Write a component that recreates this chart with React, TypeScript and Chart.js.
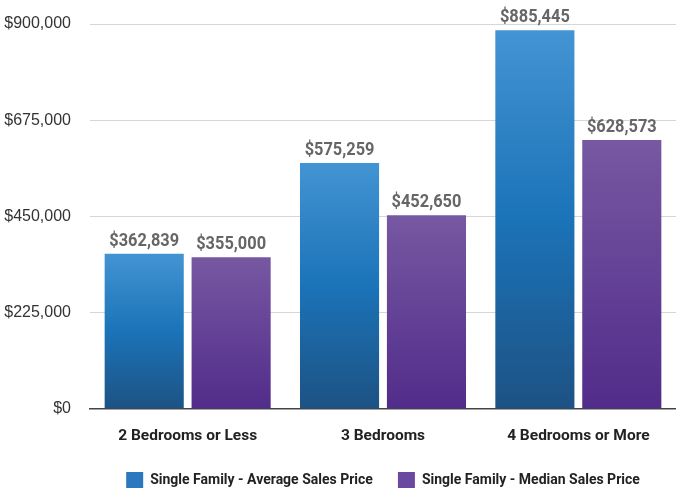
import React, { useEffect, useRef } from "react";
import { Chart, registerables } from "chart.js";

Chart.register(...registerables);

const categories = ["2 Bedrooms or Less", "3 Bedrooms", "4 Bedrooms or More"];
const averagePrices = [362839, 575259, 885445];
const medianPrices = [355000, 452650, 628573];
const seriesNames = ["Single Family - Average Sales Price", "Single Family - Median Sales Price"];
const yTicks = [0, 225000, 450000, 675000, 900000];

const BOLD = "'Roboto', 'Liberation Sans', sans-serif";
const SANS = "'Liberation Sans', Arial, sans-serif";

const fmt = (v: number) => "$" + v.toLocaleString("en-US");

function barGradient(stops: [number, string][], solid: string) {
  return (ctx: any) => {
    const chart = ctx.chart;
    if (ctx.type !== "data" || !chart.chartArea) return solid;
    const y = chart.scales.y;
    const v = ctx.raw as number;
    const top = y.getPixelForValue(v);
    const bottom = y.getPixelForValue(0);
    const g = chart.ctx.createLinearGradient(0, top, 0, bottom);
    stops.forEach(([o, c]) => g.addColorStop(o, c));
    return g;
  };
}

const dataLabels = {
  id: "dataLabels",
  afterDatasetsDraw(chart: any) {
    const ctx = chart.ctx;
    chart.data.datasets.forEach((ds: any, i: number) => {
      const meta = chart.getDatasetMeta(i);
      meta.data.forEach((el: any, j: number) => {
        ctx.save();
        ctx.font = `bold 18px ${BOLD}`;
        ctx.fillStyle = "#666666";
        ctx.textAlign = "center";
        ctx.textBaseline = "alphabetic";
        ctx.translate(el.x, el.y - 8);
        ctx.scale(0.91, 1);
        ctx.fillText(fmt(ds.data[j]), 0, 0);
        ctx.restore();
      });
    });
  },
};

export default function App() {
  const ref = useRef<HTMLCanvasElement | null>(null);
  useEffect(() => {
    if (!ref.current) return;
    const chart = new Chart(ref.current, {
      type: "bar",
      data: {
        labels: categories,
        datasets: [
          {
            label: seriesNames[0],
            data: averagePrices,
            backgroundColor: barGradient(
              [
                [0, "#4394d3"],
                [0.5, "#1b73b8"],
                [1, "#1d5283"],
              ],
              "#2a78bd"
            ),
            borderWidth: 0,
          },
          {
            label: seriesNames[1],
            data: medianPrices,
            backgroundColor: barGradient(
              [
                [0, "#7758a2"],
                [1, "#512c8a"],
              ],
              "#6a49a0"
            ),
            borderWidth: 0,
          },
        ],
      },
      options: {
        animation: false,
        responsive: false,
        maintainAspectRatio: false,
        devicePixelRatio: 1,
        layout: { padding: { top: 24, left: 0, right: 0, bottom: -7 } },
        datasets: { bar: { categoryPercentage: 0.89, barPercentage: 0.91 } },
        plugins: {
          tooltip: { enabled: false },
          legend: {
            position: "bottom",
            fullSize: false,
            labels: {
              boxWidth: 17,
              boxHeight: 16,
              padding: 25,
              color: "#222222",
              font: { family: BOLD, size: 14, weight: "bold" },
              generateLabels: (c: any) =>
                c.data.datasets.map((ds: any, i: number) => ({
                  text: ds.label,
                  fillStyle: i === 0 ? "#2a78bd" : "#6a49a0",
                  strokeStyle: "rgba(0,0,0,0)",
                  lineWidth: 0,
                  hidden: false,
                  datasetIndex: i,
                  fontColor: "#222222",
                })),
            },
          },
        },
        scales: {
          x: {
            grid: { display: false },
            border: { display: true, color: "#444444", width: 1.5 },
            ticks: {
              color: "#222222",
              padding: 10,
              font: { family: BOLD, size: 15.5, weight: "bold" },
            },
            afterFit: (s: any) => {
              s.height = 38;
            },
          },
          y: {
            min: 0,
            max: 900000,
            border: { display: false },
            grid: {
              drawTicks: false,
              color: (c: any) => (c.tick && c.tick.value === 0 ? "rgba(0,0,0,0)" : "#d6d6d6"),
              lineWidth: 1,
            },
            afterBuildTicks: (s: any) => {
              s.ticks = yTicks.map((v) => ({ value: v }));
            },
            ticks: {
              color: "#333333",
              padding: 19,
              font: { family: SANS, size: 16 },
              callback: (v: any) => fmt(Number(v)),
            },
            afterFit: (s: any) => {
              s.width = 90;
              s.paddingTop = 0;
              s.paddingBottom = 0;
            },
          },
        },
      },
      plugins: [dataLabels],
    });
    return () => chart.destroy();
  }, []);
  return (
    <div style={{ position: "fixed", left: 0, top: 0, width: 676, height: 491, background: "#fff" }}>
      <canvas ref={ref} width={676} height={491} style={{ width: 676, height: 491, display: "block" }} />
    </div>
  );
}
